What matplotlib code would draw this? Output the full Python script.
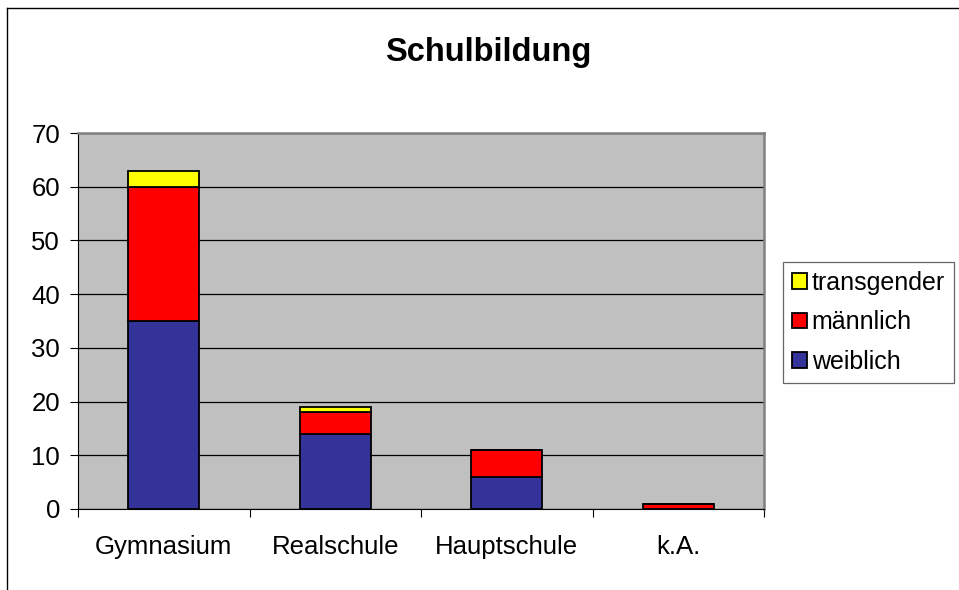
import matplotlib.pyplot as plt
import numpy as np
from matplotlib.lines import Line2D

# Daten
kategorien = ['Gymnasium', 'Realschule', 'Hauptschule', 'k.A.']
weiblich = [35, 14, 6, 0]
maennlich = [25, 4, 5, 1]
transgender = [3, 1, 0, 0]

plt.rcParams['font.family'] = ['Liberation Sans', 'DejaVu Sans']

fig = plt.figure(figsize=(9.59, 5.90), dpi=100)
ax = fig.add_axes([78/959, 81/590, 686/959, 376/590])
ax.set_facecolor('#C0C0C0')

x = np.arange(len(kategorien))
breite = 0.414
unten2 = np.array(weiblich) + np.array(maennlich)

ax.bar(x, weiblich, breite, color='#333399', edgecolor='black', linewidth=1.3, label='weiblich', zorder=3)
ax.bar(x, maennlich, breite, bottom=weiblich, color='#FF0000', edgecolor='black', linewidth=1.3, label='männlich', zorder=3)
ax.bar(x, transgender, breite, bottom=unten2, color='#FFFF00', edgecolor='black', linewidth=1.3, label='transgender', zorder=3)

ax.set_xlim(-0.5, 3.5)
ax.set_ylim(0, 70)
ax.set_yticks(range(0, 71, 10))
ax.yaxis.grid(True, color='black', linewidth=0.9, zorder=1)
ax.set_axisbelow(True)

# Kategorienbeschriftung zwischen den Strichen
ax.set_xticks(np.arange(-0.5, 4, 1))
ax.set_xticklabels([])
ax.set_xticks(x, minor=True)
ax.set_xticklabels(kategorien, minor=True, fontsize=18.5)
ax.tick_params(axis='x', which='minor', length=0, pad=19)
ax.tick_params(axis='x', which='major', length=6, direction='out', color='black')
ax.tick_params(axis='y', length=6, direction='out', labelsize=18.5, pad=7)

for s in ['top', 'right']:
    ax.spines[s].set_color('#808080')
    ax.spines[s].set_linewidth(1.8)
ax.spines['left'].set_color('black')
ax.spines['bottom'].set_color('black')

fig.text(488/959, 1 - 52/590, 'Schulbildung', fontsize=23.5, fontweight='bold',
         ha='center', va='center')

handles, labels = ax.get_legend_handles_labels()
leg = fig.legend(handles[::-1], labels[::-1], loc='upper left',
                 bbox_to_anchor=(783/959, 1 - 262/590), fontsize=18,
                 frameon=True, fancybox=False, edgecolor='#404040',
                 handlelength=0.6, handleheight=0.6, handletextpad=0.2,
                 labelspacing=0.62, borderpad=0.35, borderaxespad=0)
leg.get_frame().set_linewidth(0.9)

# Rahmen des Diagrammbereichs
fig.add_artist(Line2D([7/959, 7/959], [0, 1 - 8/590], color='black', linewidth=1.0))
fig.add_artist(Line2D([7/959, 1], [1 - 8/590, 1 - 8/590], color='black', linewidth=1.0))

fig.savefig('out.png', dpi=100)
